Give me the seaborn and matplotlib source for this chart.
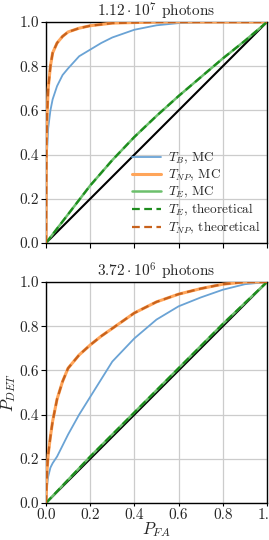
import matplotlib
matplotlib.use("Agg")
import matplotlib.pyplot as plt
import seaborn as sns
import numpy as np

# ---------------- data ----------------
titles = [r"$1.12\cdot10^7$ photons", r"$3.72\cdot10^6$ photons"]

# top panel
top_b_x = [0, 0.002, 0.005, 0.01, 0.02, 0.03, 0.05, 0.075, 0.1, 0.15, 0.2, 0.25, 0.3, 0.4, 0.5, 0.6, 0.7, 0.8, 1.0]
top_b_y = [0, 0.30, 0.42, 0.52, 0.60, 0.65, 0.71, 0.76, 0.79, 0.845, 0.875, 0.905, 0.93, 0.965, 0.985, 0.995, 1.0, 1.0, 1.0]
top_np_x = [0, 0.001, 0.002, 0.005, 0.01, 0.02, 0.03, 0.05, 0.075, 0.1, 0.15, 0.2, 0.3, 0.5, 1.0]
top_np_y = [0, 0.30, 0.45, 0.58, 0.70, 0.80, 0.86, 0.905, 0.935, 0.955, 0.972, 0.983, 0.995, 1.0, 1.0]
top_e_x = [0, 0.1, 0.2, 0.3, 0.4, 0.5, 0.6, 0.7, 0.8, 0.9, 1.0]
top_e_y = [0, 0.13, 0.26, 0.375, 0.48, 0.575, 0.665, 0.75, 0.835, 0.915, 1.0]

# bottom panel
bot_b_x = [0, 0.005, 0.01, 0.02, 0.03, 0.05, 0.075, 0.1, 0.15, 0.2, 0.25, 0.3, 0.4, 0.5, 0.6, 0.7, 0.8, 0.9, 1.0]
bot_b_y = [0, 0.08, 0.12, 0.16, 0.18, 0.21, 0.26, 0.31, 0.40, 0.48, 0.56, 0.64, 0.745, 0.83, 0.89, 0.93, 0.965, 0.99, 1.0]
bot_np_x = [0, 0.005, 0.01, 0.02, 0.03, 0.05, 0.075, 0.1, 0.15, 0.2, 0.25, 0.3, 0.4, 0.5, 0.6, 0.7, 0.8, 0.9, 1.0]
bot_np_y = [0, 0.15, 0.22, 0.30, 0.37, 0.47, 0.55, 0.61, 0.67, 0.715, 0.755, 0.79, 0.86, 0.91, 0.945, 0.97, 0.99, 1.0, 1.0]
bot_e_x = [0, 0.2, 0.4, 0.6, 0.8, 1.0]
bot_e_y = [0, 0.21, 0.41, 0.61, 0.81, 1.0]

diag = [0, 1]
ticks = [0.0, 0.2, 0.4, 0.6, 0.8, 1.0]
tick_labels_x = ["0.0", "0.2", "0.4", "0.6", "0.8", "1.0"]

labels = [r"$T_B$, MC", r"$T_{NP}$, MC", r"$T_E$, MC",
          r"$T_E$, theoretical", r"$T_{NP}$, theoretical"]

# ---------------- style ----------------
sns.set_style("whitegrid")
plt.rcParams["font.family"] = ["serif"]
plt.rcParams["font.serif"] = ["cmr10", "DejaVu Serif"]
plt.rcParams["mathtext.fontset"] = "cm"
plt.rcParams["axes.formatter.use_mathtext"] = True
plt.rcParams["axes.unicode_minus"] = False

c_blue = "#6aa3d5"
c_orange = "#ffa55a"
c_orange_d = "#c8621c"
c_green = "#6cc06c"
c_green_d = "#1e8c1e"

fs = 11

fig = plt.figure(figsize=(2.69, 5.40), dpi=100)
ax1 = fig.add_axes([46/269, 1-243/540, 221/269, 221/540])
ax2 = fig.add_axes([46/269, 1-503/540, 221/269, 221/540])

panels = [
    (ax1, top_b_x, top_b_y, top_np_x, top_np_y, top_e_x, top_e_y),
    (ax2, bot_b_x, bot_b_y, bot_np_x, bot_np_y, bot_e_x, bot_e_y),
]

for i, (ax, bx, by, nx, ny, ex, ey) in enumerate(panels):
    sns.lineplot(x=diag, y=diag, ax=ax, color="black", lw=1.5, zorder=2)
    sns.lineplot(x=bx, y=by, ax=ax, color=c_blue, lw=1.3, label=labels[0], zorder=3)
    sns.lineplot(x=nx, y=ny, ax=ax, color=c_orange, lw=2.2, label=labels[1], zorder=3)
    sns.lineplot(x=ex, y=ey, ax=ax, color=c_green, lw=1.8, label=labels[2], zorder=3)
    sns.lineplot(x=ex, y=ey, ax=ax, color=c_green_d, lw=1.6, ls=(0, (3.5, 2)), label=labels[3], zorder=4)
    sns.lineplot(x=nx, y=ny, ax=ax, color=c_orange_d, lw=1.6, ls=(0, (3.5, 2)), label=labels[4], zorder=4)

    ax.set_xlim(0, 1)
    ax.set_ylim(0, 1)
    ax.set_xticks(ticks)
    ax.set_yticks(ticks)
    ax.set_yticklabels([f"{t:.1f}" for t in ticks], fontsize=fs)
    ax.grid(True, color="#cccccc", lw=0.9)
    for s in ax.spines.values():
        s.set_color("black")
        s.set_linewidth(1.0)
    ax.tick_params(axis="both", which="both", direction="out", length=3.5,
                   width=0.8, color="black", bottom=True, left=True, pad=1.5)
    ax.set_title(titles[i], fontsize=fs, pad=3)
    ax.set_xlabel("")
    ax.set_ylabel("")
    if i == 0:
        ax.set_xticklabels([])
        ax.legend(loc="lower right", fontsize=9.5, frameon=False,
                  handlelength=2.2, borderaxespad=0.1, labelspacing=0.15,
                  handletextpad=0.5)
    else:
        ax.set_xticklabels(tick_labels_x, fontsize=fs)
        ax.tick_params(axis="x", length=2.5, pad=1)
        ax.get_legend().remove()
        ax.set_xlabel(r"$P_{FA}$", fontsize=12, labelpad=-1)
        ax.set_ylabel(r"$P_{DET}$", fontsize=12, labelpad=1)

fig.savefig("out.png", dpi=100)
